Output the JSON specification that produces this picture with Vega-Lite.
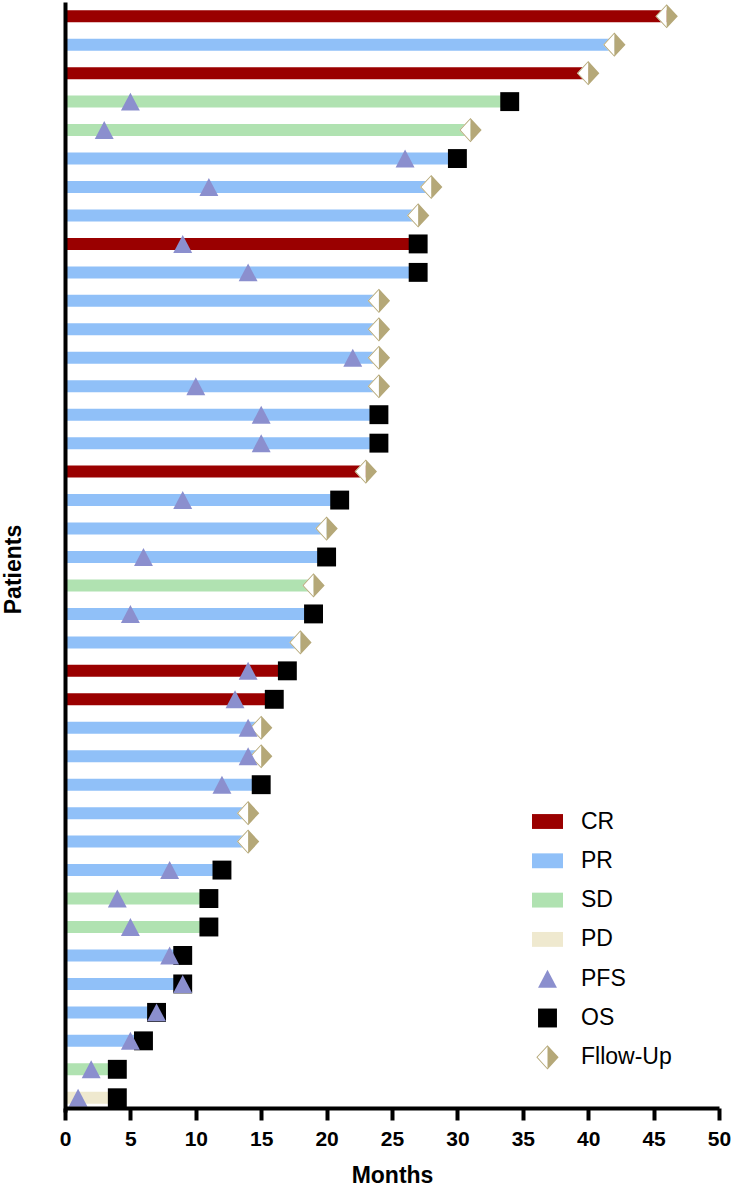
{
  "$schema": "https://vega.github.io/schema/vega-lite/v6.json",
  "width": 654,
  "height": 1106,
  "autosize": {"type": "none"},
  "padding": {"left": 65, "top": 2, "right": 12, "bottom": 78},
  "background": "white",
  "config": {
    "view": {"stroke": null},
    "font": "Liberation Sans",
    "legend": {
      "title": null,
      "orient": "none",
      "legendX": 467,
      "legendY": 804,
      "padding": 0,
      "symbolSize": 961,
      "symbolStrokeWidth": 0,
      "symbolOpacity": 1,
      "labelFont": "Liberation Sans",
      "labelFontSize": 23,
      "labelColor": "black",
      "labelOffset": 18,
      "rowPadding": 11.3
    }
  },
  "datasets": {
    "bars": [
      {"pt": 1, "kind": "CR", "months": 46},
      {"pt": 2, "kind": "PR", "months": 42},
      {"pt": 3, "kind": "CR", "months": 40},
      {"pt": 4, "kind": "SD", "months": 34},
      {"pt": 5, "kind": "SD", "months": 31},
      {"pt": 6, "kind": "PR", "months": 30},
      {"pt": 7, "kind": "PR", "months": 28},
      {"pt": 8, "kind": "PR", "months": 27},
      {"pt": 9, "kind": "CR", "months": 27},
      {"pt": 10, "kind": "PR", "months": 27},
      {"pt": 11, "kind": "PR", "months": 24},
      {"pt": 12, "kind": "PR", "months": 24},
      {"pt": 13, "kind": "PR", "months": 24},
      {"pt": 14, "kind": "PR", "months": 24},
      {"pt": 15, "kind": "PR", "months": 24},
      {"pt": 16, "kind": "PR", "months": 24},
      {"pt": 17, "kind": "CR", "months": 23},
      {"pt": 18, "kind": "PR", "months": 21},
      {"pt": 19, "kind": "PR", "months": 20},
      {"pt": 20, "kind": "PR", "months": 20},
      {"pt": 21, "kind": "SD", "months": 19},
      {"pt": 22, "kind": "PR", "months": 19},
      {"pt": 23, "kind": "PR", "months": 18},
      {"pt": 24, "kind": "CR", "months": 17},
      {"pt": 25, "kind": "CR", "months": 16},
      {"pt": 26, "kind": "PR", "months": 15},
      {"pt": 27, "kind": "PR", "months": 15},
      {"pt": 28, "kind": "PR", "months": 15},
      {"pt": 29, "kind": "PR", "months": 14},
      {"pt": 30, "kind": "PR", "months": 14},
      {"pt": 31, "kind": "PR", "months": 12},
      {"pt": 32, "kind": "SD", "months": 11},
      {"pt": 33, "kind": "SD", "months": 11},
      {"pt": 34, "kind": "PR", "months": 9},
      {"pt": 35, "kind": "PR", "months": 9},
      {"pt": 36, "kind": "PR", "months": 7},
      {"pt": 37, "kind": "PR", "months": 6},
      {"pt": 38, "kind": "SD", "months": 4},
      {"pt": 39, "kind": "PD", "months": 4}
    ],
    "events": [
      {"pt": 1, "kind": "Fllow-Up", "months": 46},
      {"pt": 2, "kind": "Fllow-Up", "months": 42},
      {"pt": 3, "kind": "Fllow-Up", "months": 40},
      {"pt": 5, "kind": "Fllow-Up", "months": 31},
      {"pt": 7, "kind": "Fllow-Up", "months": 28},
      {"pt": 8, "kind": "Fllow-Up", "months": 27},
      {"pt": 11, "kind": "Fllow-Up", "months": 24},
      {"pt": 12, "kind": "Fllow-Up", "months": 24},
      {"pt": 13, "kind": "Fllow-Up", "months": 24},
      {"pt": 14, "kind": "Fllow-Up", "months": 24},
      {"pt": 17, "kind": "Fllow-Up", "months": 23},
      {"pt": 19, "kind": "Fllow-Up", "months": 20},
      {"pt": 21, "kind": "Fllow-Up", "months": 19},
      {"pt": 23, "kind": "Fllow-Up", "months": 18},
      {"pt": 26, "kind": "Fllow-Up", "months": 15},
      {"pt": 27, "kind": "Fllow-Up", "months": 15},
      {"pt": 29, "kind": "Fllow-Up", "months": 14},
      {"pt": 30, "kind": "Fllow-Up", "months": 14},
      {"pt": 4, "kind": "OS", "months": 34},
      {"pt": 6, "kind": "OS", "months": 30},
      {"pt": 9, "kind": "OS", "months": 27},
      {"pt": 10, "kind": "OS", "months": 27},
      {"pt": 15, "kind": "OS", "months": 24},
      {"pt": 16, "kind": "OS", "months": 24},
      {"pt": 18, "kind": "OS", "months": 21},
      {"pt": 20, "kind": "OS", "months": 20},
      {"pt": 22, "kind": "OS", "months": 19},
      {"pt": 24, "kind": "OS", "months": 17},
      {"pt": 25, "kind": "OS", "months": 16},
      {"pt": 28, "kind": "OS", "months": 15},
      {"pt": 31, "kind": "OS", "months": 12},
      {"pt": 32, "kind": "OS", "months": 11},
      {"pt": 33, "kind": "OS", "months": 11},
      {"pt": 34, "kind": "OS", "months": 9},
      {"pt": 35, "kind": "OS", "months": 9},
      {"pt": 36, "kind": "OS", "months": 7},
      {"pt": 37, "kind": "OS", "months": 6},
      {"pt": 38, "kind": "OS", "months": 4},
      {"pt": 39, "kind": "OS", "months": 4},
      {"pt": 4, "kind": "PFS", "months": 5},
      {"pt": 5, "kind": "PFS", "months": 3},
      {"pt": 6, "kind": "PFS", "months": 26},
      {"pt": 7, "kind": "PFS", "months": 11},
      {"pt": 9, "kind": "PFS", "months": 9},
      {"pt": 10, "kind": "PFS", "months": 14},
      {"pt": 13, "kind": "PFS", "months": 22},
      {"pt": 14, "kind": "PFS", "months": 10},
      {"pt": 15, "kind": "PFS", "months": 15},
      {"pt": 16, "kind": "PFS", "months": 15},
      {"pt": 18, "kind": "PFS", "months": 9},
      {"pt": 20, "kind": "PFS", "months": 6},
      {"pt": 22, "kind": "PFS", "months": 5},
      {"pt": 24, "kind": "PFS", "months": 14},
      {"pt": 25, "kind": "PFS", "months": 13},
      {"pt": 26, "kind": "PFS", "months": 14},
      {"pt": 27, "kind": "PFS", "months": 14},
      {"pt": 28, "kind": "PFS", "months": 12},
      {"pt": 31, "kind": "PFS", "months": 8},
      {"pt": 32, "kind": "PFS", "months": 4},
      {"pt": 33, "kind": "PFS", "months": 5},
      {"pt": 34, "kind": "PFS", "months": 8},
      {"pt": 35, "kind": "PFS", "months": 9},
      {"pt": 36, "kind": "PFS", "months": 7},
      {"pt": 37, "kind": "PFS", "months": 5},
      {"pt": 38, "kind": "PFS", "months": 2},
      {"pt": 39, "kind": "PFS", "months": 1}
    ]
  },
  "layer": [
    {
      "data": {"name": "bars"},
      "mark": {"type": "bar", "height": 12},
      "encoding": {
        "y": {
          "field": "pt",
          "type": "ordinal",
          "scale": {
            "type": "band",
            "domain": [1, 2, 3, 4, 5, 6, 7, 8, 9, 10, 11, 12, 13, 14, 15, 16, 17, 18, 19, 20, 21, 22, 23, 24, 25, 26, 27, 28, 29, 30, 31, 32, 33, 34, 35, 36, 37, 38, 39],
            "range": [0, 1110],
            "paddingInner": 0,
            "paddingOuter": 0
          },
          "axis": {
            "title": "Patients",
            "labels": false,
            "ticks": false,
            "grid": false,
            "domainColor": "black",
            "domainWidth": 4,
            "zindex": 1,
            "titleFont": "Liberation Sans",
            "titleFontSize": 23,
            "titleFontWeight": "bold",
            "titleColor": "black",
            "titleAngle": -90,
            "titleBaseline": "alphabetic",
            "titleAlign": "center",
            "titleX": -45,
            "titleY": 567
          }
        },
        "x": {
          "field": "months",
          "type": "quantitative",
          "scale": {"domain": [0, 50], "nice": false},
          "axis": {
            "title": "Months",
            "values": [0, 5, 10, 15, 20, 25, 30, 35, 40, 45, 50],
            "grid": false,
            "zindex": 1,
            "domainColor": "black",
            "domainWidth": 4,
            "tickColor": "black",
            "tickWidth": 4,
            "tickSize": 12,
            "labelFont": "Liberation Sans",
            "labelFontSize": 21,
            "labelFontWeight": "bold",
            "labelColor": "black",
            "labelPadding": 8,
            "labelFlush": false,
            "titleFont": "Liberation Sans",
            "titleFontSize": 23,
            "titleFontWeight": "bold",
            "titleColor": "black",
            "titleBaseline": "alphabetic",
            "titleY": 74
          }
        },
        "color": {
          "field": "kind",
          "type": "nominal",
          "scale": {
            "domain": ["CR", "PR", "SD", "PD", "PFS", "OS", "Fllow-Up"],
            "range": ["#9a0000", "#90c0f8", "#b0e2b1", "#efe9cf", "#8b8fce", "#000000", "#b5a878"]
          }
        }
      }
    },
    {
      "data": {"name": "events"},
      "transform": [{"filter": "datum.kind === 'Fllow-Up'"}],
      "mark": {
        "type": "point",
        "filled": true,
        "fill": "white",
        "opacity": 1,
        "size": 961,
        "strokeWidth": 0,
        "shape": "M0,-0.78L-0.72,0L0,0.78Z"
      },
      "encoding": {
        "x": {"field": "months", "type": "quantitative"},
        "y": {"field": "pt", "type": "ordinal"}
      }
    },
    {
      "data": {"name": "events"},
      "mark": {"type": "point", "filled": true, "opacity": 1, "size": 961, "strokeWidth": 0},
      "encoding": {
        "x": {"field": "months", "type": "quantitative"},
        "y": {"field": "pt", "type": "ordinal"},
        "color": {
          "field": "kind",
          "type": "nominal",
          "scale": {
            "domain": ["CR", "PR", "SD", "PD", "PFS", "OS", "Fllow-Up"],
            "range": ["#9a0000", "#90c0f8", "#b0e2b1", "#efe9cf", "#8b8fce", "#000000", "#b5a878"]
          }
        },
        "shape": {
          "field": "kind",
          "type": "nominal",
          "scale": {
            "domain": ["CR", "PR", "SD", "PD", "PFS", "OS", "Fllow-Up"],
            "range": [
              "M-1,-0.48L1,-0.48L1,0.48L-1,0.48Z",
              "M-1,-0.48L1,-0.48L1,0.48L-1,0.48Z",
              "M-1,-0.48L1,-0.48L1,0.48L-1,0.48Z",
              "M-1,-0.48L1,-0.48L1,0.48L-1,0.48Z",
              "M0,-0.58L0.61,0.58L-0.61,0.58Z",
              "M-0.61,-0.61L0.61,-0.61L0.61,0.61L-0.61,0.61Z",
              "M0,-0.78L0.72,0L0,0.78ZM0,-0.78L-0.72,0L0,0.78L0,0.7L-0.64,0L0,-0.7Z"
            ]
          }
        }
      }
    }
  ]
}
